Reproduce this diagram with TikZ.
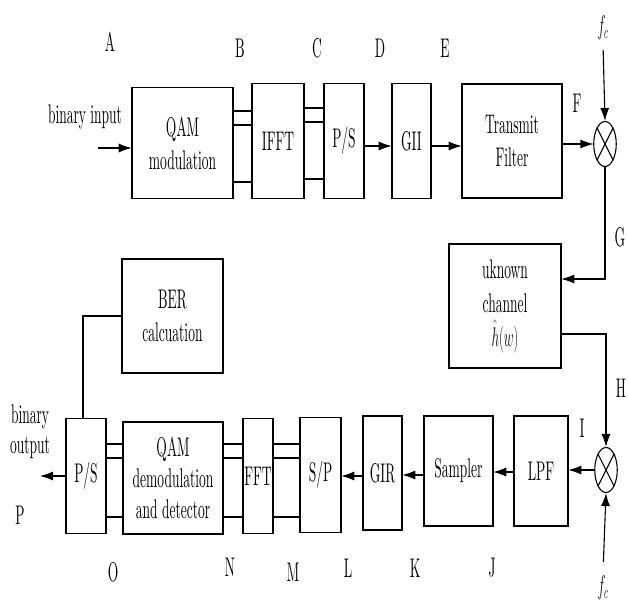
\RequirePackage{fix-cm}
\documentclass[tikz,border=0pt]{standalone}
\usepackage{fontspec}
\setmainfont{lmroman10-regular.otf}
\usetikzlibrary{arrows.meta,calc}
\begin{document}
\begin{tikzpicture}[x=2pt,y=-1pt,xscale=0.5,transform shape,
  line width=1.1pt,
  every node/.style={font=\fontsize{27}{33}\selectfont},
  blk/.style={draw, align=center, inner sep=0pt},
  mix/.style={draw, circle, minimum size=45pt, inner sep=0pt},
  arw/.style={-{Latex[length=13pt,width=9pt]}}]
\useasboundingbox (0,0) rectangle (628,602);

\node[blk, minimum width=202pt, minimum height=111pt] (qam) at (182.5,143) {QAM\\modulation};
\node[blk, minimum width=104pt, minimum height=115pt] (ifft) at (278,141) {IFFT};
\node[blk, minimum width=80pt, minimum height=115pt] (psT) at (344,141) {P/S};
\node[blk, minimum width=78pt, minimum height=115pt] (gii) at (411.5,141) {GII};
\node[blk, minimum width=200pt, minimum height=114pt] (tf) at (512,141) {Transmit\\Filter};
\node[mix] (mixT) at (605,144) {};
\node (fcT) at (603,28) {$f_c$};

\node[blk, minimum width=224pt, minimum height=124pt, font=\fontsize{27}{34}\selectfont] (chan) at (505,306) {uknown\\channel\\$\hat{h}(w)$};
\node[blk, minimum width=202pt, minimum height=114pt] (ber) at (172.5,316) {BER\\calcuation};

\node[blk, minimum width=80pt, minimum height=115pt] (psB) at (86,476) {P/S};
\node[blk, minimum width=200pt, minimum height=112pt, font=\fontsize{27}{31}\selectfont] (dem) at (173,478) {QAM\\demodulation\\and detector};
\node[blk, minimum width=60pt, minimum height=115pt] (fft) at (258,476) {FFT};
\node[blk, minimum width=82pt, minimum height=115pt] (sp) at (320.5,475) {S/P};
\node[blk, minimum width=78pt, minimum height=114pt] (gir) at (382.5,473) {GIR};
\node[blk, minimum width=138pt, minimum height=110pt] (smp) at (458.5,471) {Sampler};
\node[blk, minimum width=108pt, minimum height=110pt] (lpf) at (541,471) {LPF};
\node[mix] (mixB) at (606,470) {};
\node (fcB) at (603,588) {$f_c$};

\node (bin) at (85,117) {binary input};
\node[align=center, font=\fontsize{27}{30}\selectfont] (bout) at (30,432) {binary\\output};
\coordinate (in) at (98,148);
\coordinate (out) at (40,476);

\node (lA) at (110,42) {A};
\node (lB) at (240,48) {B};
\node (lC) at (317,48) {C};
\node (lD) at (380,48) {D};
\node (lE) at (445,48) {E};
\node (lF) at (577,103) {F};
\node (lG) at (620,237) {G};
\node (lH) at (621,388) {H};
\node (lI) at (582,428) {I};
\node (lJ) at (492,568) {J};
\node (lK) at (415,568) {K};
\node (lL) at (348,568) {L};
\node (lM) at (293,572) {M};
\node (lN) at (230,567) {N};
\node (lO) at (113,572) {O};
\node (lP) at (20,515) {P};

\draw (mixT.north east) -- (mixT.south west);
\draw (mixT.north west) -- (mixT.south east);
\draw (mixB.north east) -- (mixB.south west);
\draw (mixB.north west) -- (mixB.south east);

\draw[arw] (in) -- (in -| qam.west);
\foreach \y in {111,125,182} \draw (qam.east |- 0,\y) -- (ifft.west |- 0,\y);
\foreach \y in {108,122,179} \draw (ifft.east |- 0,\y) -- (psT.west |- 0,\y);
\draw[arw] (psT.east |- 0,146) -- (gii.west |- 0,146);
\draw[arw] (gii.east |- 0,146) -- (tf.west |- 0,146);
\draw[arw] (tf.east |- mixT.west) -- (mixT.west);
\draw[arw, shorten <=6pt] (fcT.south) -- (mixT.north);
\draw[arw] (mixT.south) |- (chan.east |- 0,279);
\draw[arw] (chan.east |- 0,334) -| (mixB.north);
\draw[arw, shorten <=10pt] (fcB.north) -- (mixB.south);

\draw[arw] (mixB.west) -- (mixB.west -| lpf.east);
\draw[arw] (lpf.west |- 0,472) -- (smp.east |- 0,472);
\draw[arw] (smp.west |- 0,475) -- (gir.east |- 0,475);
\draw[arw] (gir.west |- 0,476) -- (sp.east |- 0,476);
\foreach \y in {444,458,517} {
  \draw (sp.west |- 0,\y) -- (fft.east |- 0,\y);
  \draw (fft.west |- 0,\y) -- (dem.east |- 0,\y);
  \draw (dem.west |- 0,\y) -- (psB.east |- 0,\y);
}
\draw[arw] (psB.west |- out) -- (out);
\draw (ber.west) -| ($(psB.north)+(-3,0)$);
\end{tikzpicture}
\end{document}
